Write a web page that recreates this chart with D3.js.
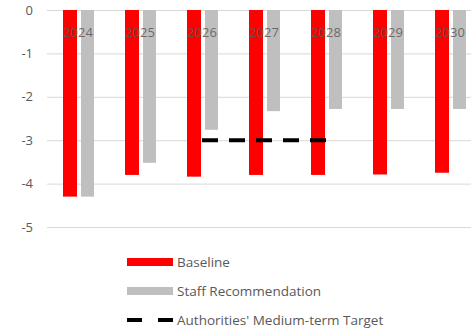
<!DOCTYPE html>
<html>
<head>
<meta charset="utf-8">
<script src="https://cdn.jsdelivr.net/npm/d3@7"></script>
<style>
  body { margin: 0; background: #fff; }
  text { font-family: "Open Sans", "Liberation Sans", sans-serif; }
</style>
</head>
<body>
<div id="chart"></div>
<script>
var years = ['2024', '2025', '2026', '2027', '2028', '2029', '2030'];
var baseline = [-4.3, -3.8, -3.84, -3.8, -3.8, -3.79, -3.75];
var staff = [-4.3, -3.52, -2.76, -2.33, -2.28, -2.28, -2.28];
var target = [null, null, -3, -3, -3, null, null];
var yTicks = [0, -1, -2, -3, -4, -5];
var legendLabels = ['Baseline', 'Staff Recommendation', "Authorities' Medium-term Target"];

var chart_width = 471;
var chart_height = 328;

var svg = d3.select('#chart')
  .append('svg')
  .attr('width', chart_width)
  .attr('height', chart_height);

// scales
var x_scale = d3.scaleBand()
  .domain(years)
  .range([47, 481]);

var y_scale = d3.scaleLinear()
  .domain([0, -5])
  .range([10, 227]);

// gridlines + y labels
var yAxis = d3.axisLeft(y_scale)
  .tickValues(yTicks)
  .tickSize(-(chart_width - 47))
  .tickPadding(14)
  .tickFormat(function(d){ return String(d); });

var gy = svg.append('g')
  .attr('transform', 'translate(47,0)')
  .call(yAxis);
gy.select('.domain').remove();
gy.selectAll('.tick line').attr('stroke', '#d9d9d9').attr('stroke-width', 1);
gy.selectAll('.tick text').attr('fill', '#595959').style('font-size', '13px');

// bars
var barW = 14;
svg.selectAll('rect.base')
  .data(baseline)
  .enter()
  .append('rect')
  .attr('class', 'base')
  .attr('x', function(d, i){ return x_scale(years[i]) + 16; })
  .attr('y', y_scale(0))
  .attr('width', barW)
  .attr('height', function(d){ return y_scale(d) - y_scale(0); })
  .attr('fill', '#ff0000');

svg.selectAll('rect.staff')
  .data(staff)
  .enter()
  .append('rect')
  .attr('class', 'staff')
  .attr('x', function(d, i){ return x_scale(years[i]) + 34; })
  .attr('y', y_scale(0))
  .attr('width', barW - 1)
  .attr('height', function(d){ return y_scale(d) - y_scale(0); })
  .attr('fill', '#bfbfbf');

// category labels at top
svg.selectAll('text.cat')
  .data(years)
  .enter()
  .append('text')
  .attr('class', 'cat')
  .attr('x', function(d){ return x_scale(d) + x_scale.bandwidth() / 2; })
  .attr('y', 37)
  .attr('text-anchor', 'middle')
  .attr('fill', '#595959')
  .attr('fill-opacity', 0.85)
  .style('font-size', '13px')
  .text(function(d){ return d; });

// target line
var line = d3.line()
  .defined(function(d){ return d != null; })
  .x(function(d, i){ return x_scale(years[i]) + x_scale.bandwidth() / 2; })
  .y(function(d){ return y_scale(d); });

svg.append('path')
  .datum(target)
  .attr('d', line)
  .attr('fill', 'none')
  .attr('stroke', '#000')
  .attr('stroke-width', 4)
  .attr('stroke-dasharray', '16,11');

// legend
var legend = svg.append('g').attr('transform', 'translate(127,0)');
var legY = [262, 291, 320];

legend.append('rect').attr('x', 0).attr('y', legY[0] - 4).attr('width', 46).attr('height', 8).attr('fill', '#ff0000');
legend.append('rect').attr('x', 0).attr('y', legY[1] - 4).attr('width', 46).attr('height', 8).attr('fill', '#bfbfbf');
legend.append('line')
  .attr('x1', 0).attr('x2', 46)
  .attr('y1', legY[2]).attr('y2', legY[2])
  .attr('stroke', '#000').attr('stroke-width', 4)
  .attr('stroke-dasharray', '15,16');

legend.selectAll('text')
  .data(legendLabels)
  .enter()
  .append('text')
  .attr('x', 50)
  .attr('y', function(d, i){ return legY[i]; })
  .attr('dy', '0.35em')
  .attr('fill', '#595959')
  .style('font-size', '13.5px')
  .text(function(d){ return d; });
</script>
</body>
</html>
